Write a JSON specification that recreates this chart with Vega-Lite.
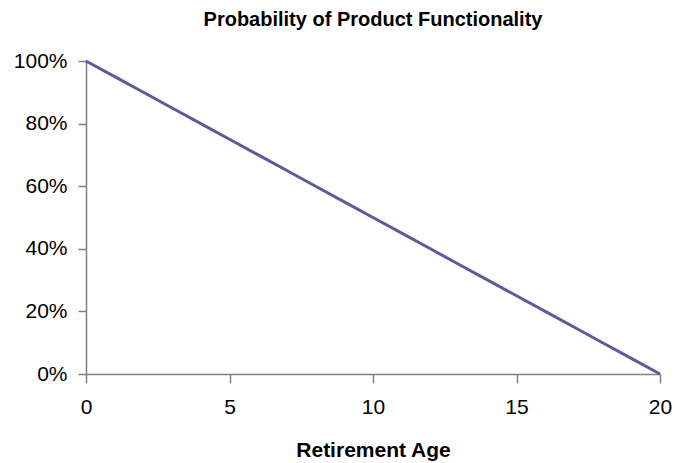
{
  "$schema": "https://vega.github.io/schema/vega-lite/v6.json",
  "width": 574,
  "height": 313,
  "autosize": {"type": "none"},
  "padding": {"left": 86, "top": 61, "right": 15, "bottom": 89},
  "background": "white",
  "config": {
    "view": {"stroke": null},
    "font": "Liberation Sans"
  },
  "title": {
    "text": "Probability of Product Functionality",
    "font": "Liberation Sans",
    "fontSize": 20,
    "fontWeight": "bold",
    "color": "black",
    "anchor": "middle",
    "offset": 20
  },
  "data": {
    "values": [
      {"age": 0, "p": 1.00},
      {"age": 1, "p": 0.95},
      {"age": 2, "p": 0.90},
      {"age": 3, "p": 0.85},
      {"age": 4, "p": 0.80},
      {"age": 5, "p": 0.75},
      {"age": 6, "p": 0.70},
      {"age": 7, "p": 0.65},
      {"age": 8, "p": 0.60},
      {"age": 9, "p": 0.55},
      {"age": 10, "p": 0.50},
      {"age": 11, "p": 0.45},
      {"age": 12, "p": 0.40},
      {"age": 13, "p": 0.35},
      {"age": 14, "p": 0.30},
      {"age": 15, "p": 0.25},
      {"age": 16, "p": 0.20},
      {"age": 17, "p": 0.15},
      {"age": 18, "p": 0.10},
      {"age": 19, "p": 0.05},
      {"age": 20, "p": 0.00}
    ]
  },
  "mark": {"type": "line", "color": "#5b5b9e", "strokeWidth": 3},
  "encoding": {
    "x": {
      "field": "age",
      "type": "quantitative",
      "scale": {"domain": [0, 20], "nice": false},
      "axis": {
        "title": "Retirement Age",
        "titleFont": "Liberation Sans",
        "titleFontSize": 21,
        "titleFontWeight": "bold",
        "titleColor": "black",
        "titlePadding": 22,
        "values": [0, 5, 10, 15, 20],
        "labelFont": "Liberation Sans",
        "labelFontSize": 21,
        "labelColor": "black",
        "labelPadding": 13,
        "tickSize": 9,
        "tickColor": "#808080",
        "domainColor": "#808080",
        "domainWidth": 1.5,
        "tickWidth": 1.5,
        "grid": false,
        "labelFlush": false
      }
    },
    "y": {
      "field": "p",
      "type": "quantitative",
      "scale": {"domain": [0, 1], "nice": false},
      "axis": {
        "title": null,
        "format": ".0%",
        "values": [0, 0.2, 0.4, 0.6, 0.8, 1.0],
        "labelFont": "Liberation Sans",
        "labelFontSize": 21,
        "labelColor": "black",
        "labelPadding": 11,
        "tickSize": 8,
        "tickColor": "#808080",
        "domainColor": "#808080",
        "domainWidth": 1.5,
        "tickWidth": 1.5,
        "grid": false,
        "labelFlush": false
      }
    }
  }
}
